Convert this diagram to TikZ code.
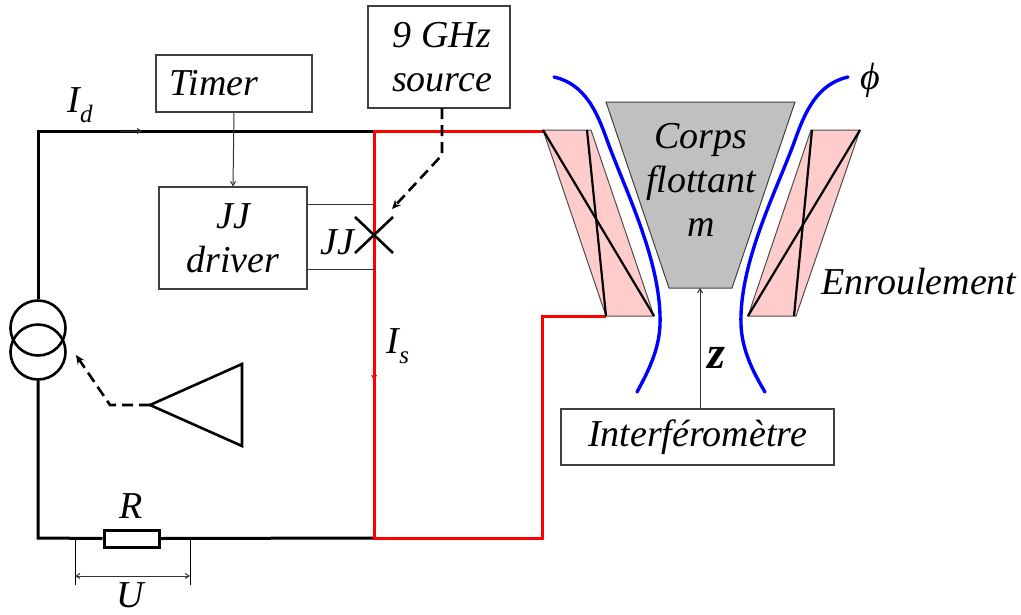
\documentclass[tikz,border=0pt]{standalone}
\usepackage{fontspec}
\setmainfont{Liberation Serif}
\usepackage{tikz}
\usetikzlibrary{arrows.meta,shapes.geometric}
\definecolor{coilpink}{RGB}{255,204,204}
\definecolor{bodygray}{RGB}{192,192,192}
\newcommand{\lab}[1]{\fontsize{38}{44}\selectfont\itshape #1}
\newcommand{\subtxt}[1]{\raisebox{-.25em}{\fontsize{25}{25}\selectfont\itshape #1}}

\begin{document}
\begin{tikzpicture}[x=1pt,y=-1pt]
			\tikzset{box/.style={draw=black!75,line width=1.3pt,align=center,font=\lab{},inner sep=0pt}}
			\tikzset{txt/.style={inner sep=0pt,font=\lab{},align=center}}
			\tikzset{wire/.style={line width=3pt,line join=miter}}
			\tikzset{redwire/.style={wire,draw=red}}
			\tikzset{thinline/.style={line width=1pt,draw=black!80}}
			\tikzset{thinarrow/.style={thinline,-{Straight Barb[length=4pt,width=5pt]}}}
			\tikzset{ctrl/.style={line width=2.6pt,dash pattern=on 11pt off 6pt}}
			\tikzset{flux/.style={line width=3.4pt,draw=blue,line cap=round}}
			\tikzset{coil/.style={fill=coilpink,draw=black!70,line width=1pt}}
			\tikzset{winding/.style={line width=2.2pt}}
			\tikzset{loopcircle/.style={draw,circle,line width=2.6pt,minimum size=55pt,inner sep=0pt}}
			\useasboundingbox (0,0) rectangle (1021,614);
			% boxes
			\node[box,minimum width=156pt,minimum height=57pt] (timer) at (234,83.5) {\hspace*{-40pt}Timer};
			\node[box,minimum width=148pt,minimum height=102pt] (driver) at (233,238) {JJ\\driver};
			\node[box,minimum width=142pt,minimum height=102pt] (source) at (439,57) {\hspace*{6pt}9 GHz\\\hspace*{6pt}source};
			\node[box,minimum width=273pt,minimum height=56pt] (interf) at (697.5,437) {Interféromètre};
			% corners of the circuit
			\coordinate (tl) at (38,131);
			\coordinate (tm) at (374,131);
			\coordinate (tr) at (543,131);
			\coordinate (bl) at (38,538);
			\coordinate (bm) at (374,538);
			\coordinate (br) at (542,538);
			\coordinate (cr) at (542,316);
			\coordinate (cc) at (606,316);
			% source and resistor
			\node[loopcircle] (srca) at (38,328) {};
			\node[loopcircle] (srcb) at (38,352) {};
			\node[draw,line width=3pt,minimum width=55pt,minimum height=17pt,inner sep=0pt] (res) at (131.5,538.5) {};
			\draw[wire] (srca.north) -- (tl) -- (tm);
			\draw[wire] (srcb.south) -- (bl) -- (res.west);
			\draw[wire] (res.east) -- (bm);
			% red branch
			\draw[redwire] (tr) -- (tm) -- (bm) -- (br) -- (cr) -- (cc);
			\coordinate (ida) at (120,131);
			\coordinate (idb) at (142,131);
			\draw[thinarrow] (ida) -- (idb);
			\coordinate (isa) at (374,360);
			\coordinate (isb) at (374,380);
			\draw[thinarrow,draw=red] (isa) -- (isb);
			% junction
			\coordinate (xa) at (355,217);
			\coordinate (xb) at (393,253);
			\coordinate (xc) at (355,253);
			\coordinate (xd) at (393,217);
			\draw[line width=2.6pt] (xa) -- (xb);
			\draw[line width=2.6pt] (xc) -- (xd);
			\draw[thinline] (driver.east |- 0,204) -- (374,204);
			\draw[thinline] (driver.east |- 0,269) -- (376,269);
			\draw[thinarrow] (timer.south) -- (driver.north);
			\coordinate (srcbend) at (442,155);
			\coordinate (srcend) at (392,209);
			\draw[ctrl,-{Stealth[length=9pt,width=8pt]}] (442,108) -- (srcbend) -- (srcend);
			% amplifier
			\node[draw=none,inner sep=0pt] (amptip) at (150,405) {};
			\coordinate (ampa) at (242,364);
			\coordinate (ampb) at (242,446);
			\draw[line width=2.6pt,line join=miter] (amptip.center) -- (ampa) -- (ampb) -- cycle;
			\coordinate (ampbend) at (110,405);
			\coordinate (ampend) at (76,355);
			\draw[ctrl,-{Stealth[length=9pt,width=8pt]}] (amptip.center) -- (ampbend) -- (ampend);
			% voltage
			\coordinate (ua) at (75,538);
			\coordinate (ub) at (190,538);
			\coordinate (uc) at (75,585);
			\coordinate (ud) at (190,585);
			\draw[thinline,draw=black] (ua) -- (uc);
			\draw[thinline,draw=black] (ub) -- (ud);
			\coordinate (ue) at (75,576);
			\coordinate (uf) at (190,576);
			\draw[thinline,{Straight Barb[length=4pt,width=5pt]}-{Straight Barb[length=4pt,width=5pt]}] (ue) -- (uf);
			% floating body and coils
			\draw[fill=bodygray,draw=black!75,line width=1pt] (606,102) -- (795,102) -- (732,288) -- (669,288) -- cycle;
			\coordinate (mbot) at (700,288);
			\draw[coil] (543,130) -- (591,130) -- (654,316) -- (606,316) -- cycle;
			\draw[coil] (811,130) -- (860,130) -- (796,316) -- (748,316) -- cycle;
			\draw[winding] (543,130) -- (654,316);
			\draw[winding] (587,130) -- (606,316);
			\draw[winding] (860,130) -- (748,316);
			\draw[winding] (812,130) -- (794,316);
			% field lines
			\draw[flux] (554,77) .. controls (585,84) and (597,112) .. (607,140) .. controls (625,190) and (662,262) .. (660,325) .. controls (659,350) and (648,372) .. (637,392);
			\draw[flux] (848,77) .. controls (817,84) and (805,112) .. (795,140) .. controls (777,190) and (739,262) .. (741,325) .. controls (742,350) and (753,372) .. (765,392);
			\draw[thinarrow] (interf.north -| mbot) -- (mbot);
			% labels
			\node[txt] (idlab) at (80,105) {I\subtxt{d}};
			\node[txt] (islab) at (398,346) {I\subtxt{s}};
			\node[txt] (jjlab) at (337,242) {JJ};
			\node[txt] (rlab) at (131,506) {R};
			\node[txt] (ulab) at (130,595) {U};
			\node[txt] (zlab) at (716,358) {\fontsize{46}{46}\selectfont\bfseries z};
			\node[txt] (philab) at (870,80) {ϕ};
			\node[txt] (enrlab) at (919,282) {Enroulement};
			\node[txt] (bodylab) at (701,180) {Corps\\flottant\\m};
		\end{tikzpicture}
\end{document}
